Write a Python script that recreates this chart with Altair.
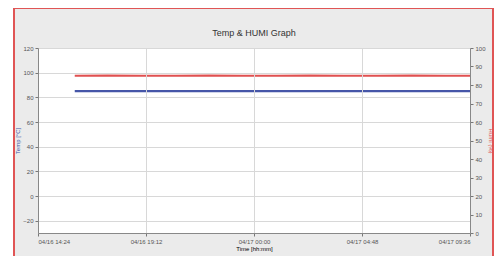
import altair as alt
import pandas as pd

# --- data ---
times = ["04/16 16:02", "04/16 17:30", "04/16 19:00", "04/16 20:30", "04/16 22:00",
         "04/16 23:30", "04/17 01:00", "04/17 02:30", "04/17 04:00", "04/17 05:30",
         "04/17 07:00", "04/17 08:30", "04/17 09:36"]
temp = [85.0, 85.0, 85.0, 85.0, 85.0, 85.0, 85.0, 85.0, 85.0, 85.0, 85.0, 85.0, 85.0]
humi = [85.0, 85.1, 85.0, 85.0, 85.1, 85.0, 85.0, 85.1, 85.0, 85.0, 85.1, 85.0, 85.0]
tick_labels = ["04/16 14:24", "04/16 19:12", "04/17 00:00", "04/17 04:48", "04/17 09:36"]
start = "04/16 14:24"
title_text = "Temp & HUMI Graph"

def minutes(s):
    d0 = pd.to_datetime("2024/" + start)
    return (pd.to_datetime("2024/" + s) - d0).total_seconds() / 60

df = pd.DataFrame({"m": [minutes(t) for t in times], "temp": temp, "humi": humi})
tick_vals = [minutes(t) for t in tick_labels]
lab_expr = "{" + ",".join(f"'{int(v)}':'{l}'" for v, l in zip(tick_vals, tick_labels)) + "}[toString(datum.value)]"

W, H = 432, 185
xscale = alt.Scale(domain=[0, 1152], nice=False, zero=False)

axis_common = dict(labelFontSize=6, labelColor="#555", tickColor="#777", domainColor="#888",
                   titleFontSize=6, gridColor="#d8d8d8", zindex=1, labelFont="Liberation Sans",
                   titleFont="Liberation Sans", titleFontWeight="normal", tickSize=3)

frame = alt.Chart(df).mark_rect(fill="#ebebeb", stroke="#e05555", strokeWidth=2, clip=False).encode(
    x=alt.value(-24), x2=alt.value(455), y=alt.value(-40), y2=alt.value(240))
plotbg = alt.Chart(df).mark_rect(fill="white").encode(
    x=alt.value(0), x2=alt.value(W), y=alt.value(0), y2=alt.value(H))
title = alt.Chart(pd.DataFrame({"t": [title_text]})).mark_text(
    fontSize=9, font="Liberation Sans", color="#333", baseline="middle").encode(
    x=alt.value(W / 2), y=alt.value(-15), text="t:N")

base = alt.Chart(df)
xenc = alt.X("m:Q", scale=xscale,
             axis=alt.Axis(values=tick_vals, labelExpr=lab_expr, title="Time [hh:mm]",
                           titlePadding=1, **axis_common))

temp_line = base.mark_line(color="#4656a8", strokeWidth=2.2).encode(
    x=xenc,
    y=alt.Y("temp:Q", scale=alt.Scale(domain=[-30, 120], nice=False),
            axis=alt.Axis(values=[-20, 0, 20, 40, 60, 80, 100, 120], title="Temp [°C]",
                          titleColor="#4656a8", titlePadding=2, **axis_common)))
humi_line = base.mark_line(color="#e05050", strokeWidth=2.2).encode(
    x=xenc,
    y=alt.Y("humi:Q", scale=alt.Scale(domain=[0, 100], nice=False),
            axis=alt.Axis(orient="right", values=list(range(0, 101, 10)), grid=False,
                          title="Humi (%)", titleColor="#e05050", titlePadding=2, **axis_common)))

chart = alt.layer(frame, plotbg, title, temp_line, humi_line).resolve_scale(y="independent").properties(
    width=W, height=H,
    autosize=alt.AutoSizeParams(type="none"),
    padding={"left": 30, "top": 40, "right": 24, "bottom": 23},
    background="white",
).configure_view(stroke="#999")

chart.save("out.html", embed_options={"renderer": "svg", "actions": False})
